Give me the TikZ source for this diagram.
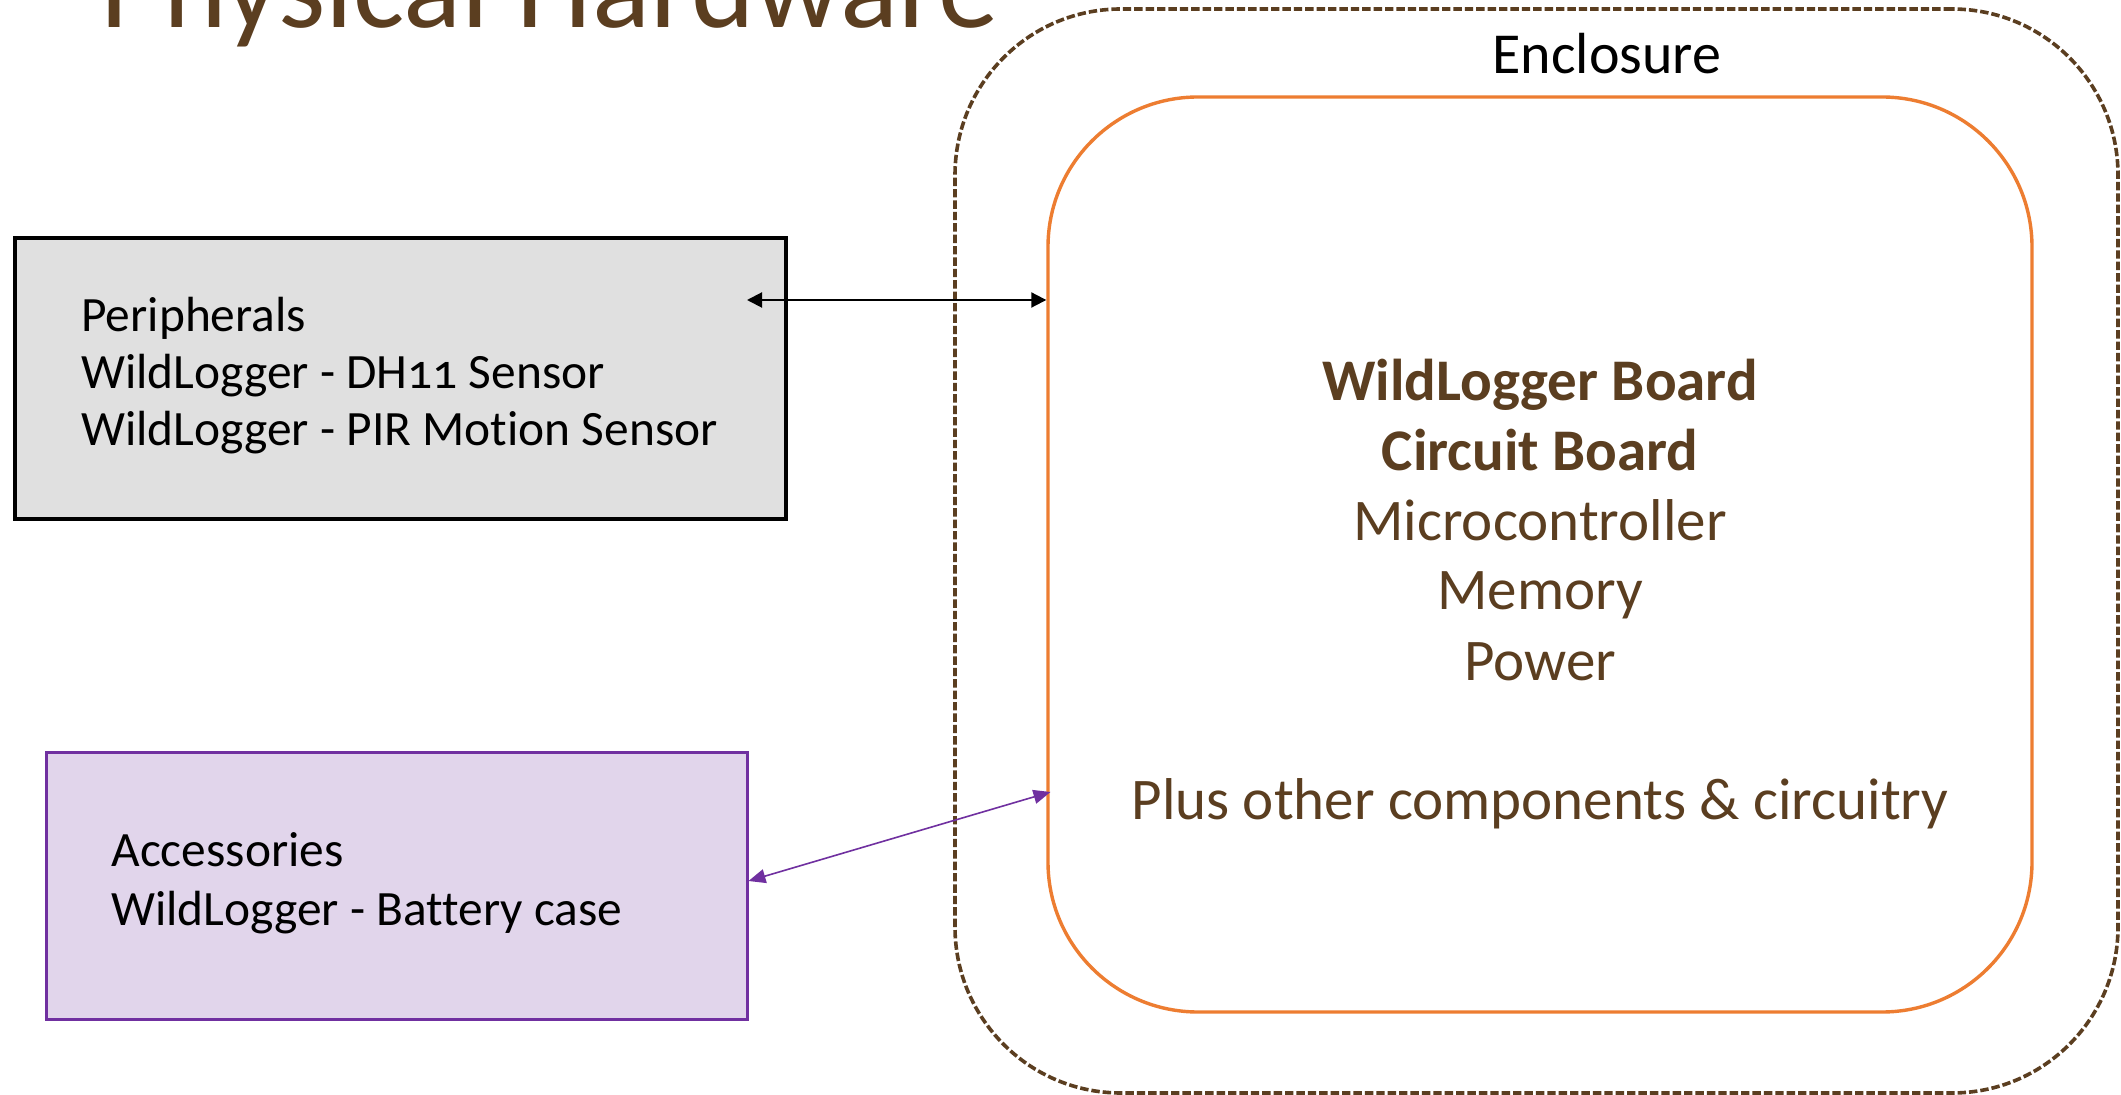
\documentclass[tikz,border=0pt]{standalone}
\usepackage{fontspec}
\setmainfont{Carlito}[Ligatures={NoCommon}]
\usetikzlibrary{arrows.meta}
\definecolor{tbrown}{RGB}{91,62,32}
\definecolor{borange}{RGB}{237,125,49}
\definecolor{pgray}{RGB}{224,224,224}
\definecolor{alav}{RGB}{225,213,235}
\definecolor{apurple}{RGB}{112,48,160}
\tikzset{
  periphbox/.style={draw=black, fill=pgray, line width=1.6pt, inner sep=0pt,
    minimum width=385.5pt, minimum height=140.5pt},
  accbox/.style={draw=apurple, fill=alav, line width=1.5pt, inner sep=0pt,
    minimum width=350.5pt, minimum height=133pt},
  enclbox/.style={draw=tbrown, line width=1.8pt, dash pattern=on 4.2pt off 1.5pt,
    rounded corners=83pt, inner sep=0pt, minimum width=581.5pt, minimum height=542pt},
  boardbox/.style={draw=borange, line width=1.7pt, rounded corners=75pt, inner sep=0pt,
    minimum width=492pt, minimum height=457.5pt},
  boxtext/.style={align=left, inner sep=0pt, text=black},
  boardtext/.style={align=center, inner sep=0pt, text=tbrown,
    font=\fontsize{29.5}{35}\selectfont},
  blackarrow/.style={draw=black, line width=1pt,
    {Triangle[length=7.5pt,width=7.5pt]}-{Triangle[length=7.5pt,width=7.5pt]}},
  purplearrow/.style={draw=apurple, line width=0.8pt,
    {Triangle[length=8.5pt,width=7pt]}-{Triangle[length=8.5pt,width=7pt]}},
}
\begin{document}
\begin{tikzpicture}[x=0.5pt,y=-0.5pt]
\useasboundingbox (0,0) rectangle (2121,1095);
\clip (0,0) rectangle (2121,1095);
\fill[white] (0,0) rectangle (2121,1095);

% title (cut off at the top)
\node[anchor=base west, inner sep=0pt, text=tbrown,
  font=\fontsize{60.6}{70}\selectfont] (title) at (100,28) {Physical Hardware};

% enclosure
\node[enclbox] (encl) at (1536.5,551) {};
\node[anchor=base, inner sep=0pt, text=black, font=\fontsize{29}{34}\selectfont]
  (encllabel) at (1607,74) {Enclosure};

% circuit board
\node[boardbox] (board) at (1540,554.5) {};
\node[boardtext, anchor=base] (boardtxt) at (1540,820)
  {\textbf{WildLogger Board}\\ \textbf{Circuit Board}\\ Microcontroller\\ Memory\\ Power\\[35pt] Plus other components \& circuitry};

% peripherals
\node[periphbox] (periph) at (400.5,378.5) {};
\node[boxtext, anchor=base west, font=\fontsize{24.7}{28.5}\selectfont\addfontfeatures{Numbers=OldStyle}]
  (periphtxt) at (81,446)
  {Peripherals\\ WildLogger - DH11 Sensor\\ WildLogger - PIR Motion Sensor};

% accessories
\node[accbox] (acc) at (396.5,886) {};
\node[boxtext, anchor=base west, font=\fontsize{24.7}{29}\selectfont]
  (acctxt) at (111,925)
  {Accessories\\ WildLogger - Battery case};

% connectors
\coordinate (pend) at (747,300);
\draw[blackarrow] (pend) -- (board.west |- pend);
\coordinate (bend) at (1050.5,792);
\draw[purplearrow] (acc.east |- 0,881) -- (bend);
\end{tikzpicture}
\end{document}
